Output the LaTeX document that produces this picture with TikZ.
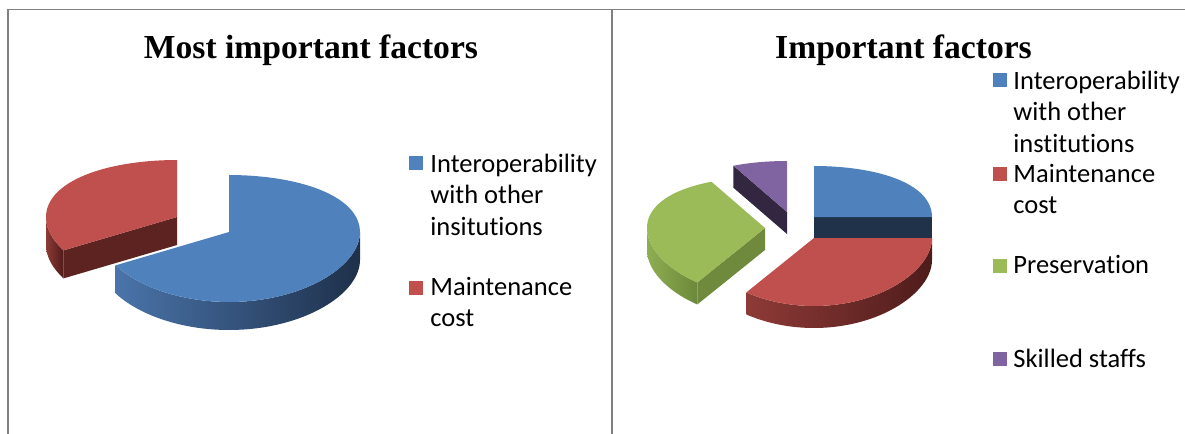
\documentclass[tikz,border=0pt]{standalone}
\usepackage{fontspec}
\setmainfont{Carlito}[Ligatures=NoCommon]
\newfontfamily\titlefont{Liberation Serif}
\definecolor{pieblue}{RGB}{79,129,189}
\definecolor{piered}{RGB}{192,80,77}
\definecolor{piegreen}{RGB}{155,187,89}
\definecolor{piepurple}{RGB}{128,100,162}
\definecolor{blueface}{RGB}{31,50,74}
\definecolor{redface}{RGB}{92,35,33}
\definecolor{greenface}{RGB}{111,138,61}
\definecolor{purpleface}{RGB}{51,38,64}
\definecolor{blueside-l}{RGB}{74,116,170}
\definecolor{blueside-r}{RGB}{30,48,74}
\definecolor{redside-l}{RGB}{142,58,55}
\definecolor{redside-r}{RGB}{78,28,27}
\definecolor{greenside-l}{RGB}{142,174,82}
\definecolor{greenside-r}{RGB}{108,136,58}
\definecolor{framegray}{RGB}{128,128,128}
% one slice: top, outer wall, cut face (vx, vy, angles)
\newcommand{\pietop}[5]{\fill[#5] (#1,#2) -- plot[domain=#3:#4,samples=60] ({#1+\rx*cos(\x)},{#2-\pa*sin(\x)-\pb*sin(\x)*sin(\x)}) -- cycle;}
\newcommand{\pieside}[6]{\shade[left color=#5,right color=#6] plot[domain=#3:#4,samples=60] ({#1+\rx*cos(\x)},{#2-\pa*sin(\x)-\pb*sin(\x)*sin(\x)}) -- plot[domain=#4:#3,samples=60] ({#1+\rx*cos(\x)},{#2+\dep-\pa*sin(\x)-\pb*sin(\x)*sin(\x)}) -- cycle;}
\newcommand{\piecut}[4]{\fill[#4] (#1,#2) -- ({#1+\rx*cos(#3)},{#2-\pa*sin(#3)-\pb*sin(#3)*sin(#3)}) -- ++(0,\dep) -- (#1,{#2+\dep}) -- cycle;}
\begin{document}
\begin{tikzpicture}[x=0.5pt,y=-0.5pt,
    charttitle/.style={anchor=base,inner sep=0,font=\titlefont\bfseries\fontsize{16.8}{20}\selectfont},
    legkey/.style={draw=none,minimum size=7pt,inner sep=0},
    legtext/.style={anchor=base west,align=left,inner sep=0,font=\fontsize{13.25}{15.75}\selectfont},
    frameline/.style={framegray,line width=1pt}]
    \useasboundingbox (0,0) rectangle (1185,434);
    \draw[framegray,line width=0.5pt] (7,9)--(1185,9);
    \draw[frameline] (8,9)--(8,434);
    \draw[frameline] (612,9)--(612,434);
    % left chart
    \node[charttitle] (titleL) at (311,58) {Most important factors};
    \def\rx{131} \def\pa{63.5} \def\pb{-6.5} \def\dep{28}
    \pieside{177}{217}{180}{210}{redside-l}{redside-r}
    \piecut{177}{217}{210}{redface}
    \pietop{177}{217}{90}{210}{piered}
    \pieside{229}{232}{-150}{0}{blueside-l}{blueside-r}
    \pietop{229}{232}{-150}{90}{pieblue}
    % legend texts sit on the baseline of their last line
    \node[legkey,fill=pieblue] (keyLa) at (415.5,163) {};
    \node[legtext] (txtLa) at (430,235) {Interoperability\\with other\\insitutions};
    \node[legkey,fill=piered] (keyLb) at (415.5,287.5) {};
    \node[legtext] (txtLb) at (430,326.5) {Maintenance\\cost};
    % right chart
    \node[charttitle] (titleR) at (903.5,58) {Important factors};
    \def\rx{118} \def\pa{59.5} \def\pb{-8.5} \def\dep{22}
    \piecut{787}{212}{117}{purpleface}
    \pietop{787}{212}{90}{117}{piepurple}
    \piecut{814}{217}{0}{blueface}
    \pietop{814}{217}{0}{90}{pieblue}
    \pieside{765}{228}{180}{235}{greenside-l}{greenside-r}
    \piecut{765}{228}{235}{greenface}
    \pietop{765}{228}{117}{235}{piegreen}
    \pieside{814}{238}{235}{360}{redside-l}{redside-r}
    \pietop{814}{238}{235}{360}{piered}
    \node[legkey,fill=pieblue] (keyRa) at (1000,80) {};
    \node[legtext] (txtRa) at (1013,152) {Interoperability\\with other\\institutions};
    \node[legkey,fill=piered] (keyRb) at (1000,174) {};
    \node[legtext] (txtRb) at (1013,213.5) {Maintenance\\cost};
    \node[legkey,fill=piegreen] (keyRc) at (1000,266) {};
    \node[legtext] (txtRc) at (1013,273) {Preservation};
    \node[legkey,fill=piepurple] (keyRd) at (1000,359) {};
    \node[legtext] (txtRd) at (1013,367) {Skilled staffs};
\end{tikzpicture}
\end{document}
